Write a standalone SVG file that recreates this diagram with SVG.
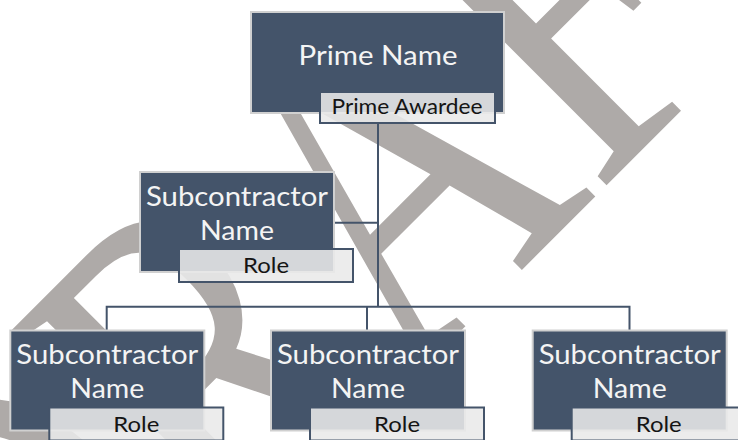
<svg xmlns="http://www.w3.org/2000/svg" width="738" height="440" viewBox="0 0 738 440">
<style>
.box{fill:#44546a;stroke:#d0d0d0;stroke-width:2}
.lbl{fill:#e9e9e9;fill-opacity:.88;stroke:#44546a;stroke-width:2}
.nt{font-family:Lato,"Open Sans",sans-serif;font-size:27px;fill:#f4f4f4;text-anchor:middle}
.lt{font-family:Lato,"Open Sans",sans-serif;font-size:21.5px;fill:#141414;text-anchor:middle}
.wm{font-family:"Liberation Serif",serif;font-size:100px;fill:#aeaaa8}
.con{fill:none;stroke:#44546a;stroke-width:2}
</style>
<rect width="738" height="440" fill="#ffffff"/>
<g id="watermark" transform="rotate(-45)">
<text class="wm" x="-135.2" y="115.2" transform="scale(3.75,4.86)">DRAFT</text>
</g>
<g id="connectors">
<path class="con" d="M378,124 V307"/>
<path class="con" d="M335,222.7 H378"/>
<path class="con" d="M106.7,330 V306.7 H629.5 V330"/>
<path class="con" d="M367,306.7 V330"/>
</g>
<g id="prime">
<rect class="box" x="251" y="12" width="253" height="101"/>
<text class="nt" x="378" y="64.5" textLength="159" lengthAdjust="spacingAndGlyphs">Prime Name</text>
<rect class="lbl" x="320" y="92" width="175" height="31"/>
<text class="lt" x="407" y="114.3" textLength="151" lengthAdjust="spacingAndGlyphs">Prime Awardee</text>
</g>
<g id="sub-mid">
<rect class="box" x="140" y="172" width="194" height="100"/>
<text class="nt" x="237" y="205.5" textLength="182" lengthAdjust="spacingAndGlyphs">Subcontractor</text>
<text class="nt" x="237" y="239.8" textLength="74" lengthAdjust="spacingAndGlyphs">Name</text>
<rect class="lbl" x="179" y="249" width="174" height="33"/>
<text class="lt" x="266" y="272.5" textLength="46" lengthAdjust="spacingAndGlyphs">Role</text>
</g>
<g id="sub-left">
<rect class="box" x="10.3" y="330.5" width="194" height="100"/>
<text class="nt" x="107.3" y="364" textLength="182" lengthAdjust="spacingAndGlyphs">Subcontractor</text>
<text class="nt" x="107.3" y="398.3" textLength="74" lengthAdjust="spacingAndGlyphs">Name</text>
<rect class="lbl" x="49.3" y="407.5" width="174" height="33"/>
<text class="lt" x="136.3" y="431.5" textLength="46" lengthAdjust="spacingAndGlyphs">Role</text>
</g>
<g id="sub-center">
<rect class="box" x="271" y="330.5" width="194" height="100"/>
<text class="nt" x="368" y="364" textLength="182" lengthAdjust="spacingAndGlyphs">Subcontractor</text>
<text class="nt" x="368" y="398.3" textLength="74" lengthAdjust="spacingAndGlyphs">Name</text>
<rect class="lbl" x="310" y="407.5" width="174" height="33"/>
<text class="lt" x="397" y="431.5" textLength="46" lengthAdjust="spacingAndGlyphs">Role</text>
</g>
<g id="sub-right">
<rect class="box" x="532.7" y="330.5" width="194" height="100"/>
<text class="nt" x="629.7" y="364" textLength="182" lengthAdjust="spacingAndGlyphs">Subcontractor</text>
<text class="nt" x="629.7" y="398.3" textLength="74" lengthAdjust="spacingAndGlyphs">Name</text>
<rect class="lbl" x="571.7" y="407.5" width="174" height="33"/>
<text class="lt" x="658.7" y="431.5" textLength="46" lengthAdjust="spacingAndGlyphs">Role</text>
</g>
</svg>
